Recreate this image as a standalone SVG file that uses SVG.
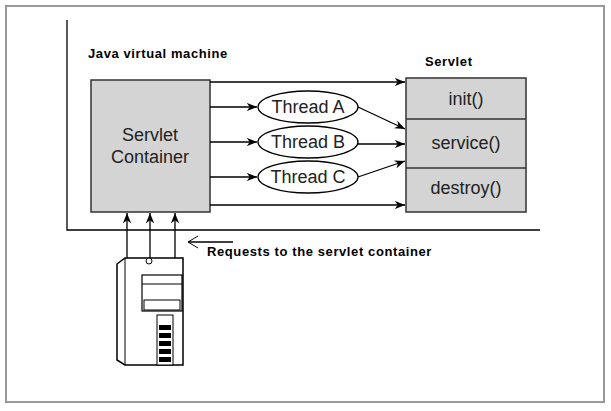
<svg xmlns="http://www.w3.org/2000/svg" width="611" height="411" viewBox="0 0 611 411">
<defs>
<marker id="ah" viewBox="0 0 10 10" refX="10" refY="5" markerWidth="8" markerHeight="8" orient="auto"><path d="M0,1 L10,5 L0,9 L3,5 z" fill="#000"/></marker>
</defs>
<style>
.b{font-family:"Liberation Sans",Arial,sans-serif;font-weight:bold;font-size:13px;letter-spacing:0.6px}
.t{font-family:"Liberation Sans",Arial,sans-serif;font-size:18px;fill:#222}
.box{fill:#d4d4d4;stroke:#333;stroke-width:1.5}
.ln{stroke:#000;stroke-width:1.3;fill:none}
</style>
<rect x="0" y="0" width="611" height="411" fill="#fff"/>
<rect x="6" y="6" width="598" height="396" fill="none" stroke="#999" stroke-width="2"/>
<path d="M67,20 V230 H540" class="ln"/>
<text class="b" x="88" y="58">Java virtual machine</text>
<text class="b" x="425" y="66">Servlet</text>
<g id="container"><rect class="box" x="91" y="80" width="119" height="132"/>
<text class="t" text-anchor="middle" x="150" y="141">Servlet</text><text class="t" text-anchor="middle" x="150" y="163">Container</text></g>
<g id="servlet"><rect class="box" x="406" y="78" width="120" height="134"/>
<line x1="406" y1="119" x2="526" y2="119" stroke="#333" stroke-width="1.5"/>
<line x1="406" y1="168" x2="526" y2="168" stroke="#333" stroke-width="1.5"/>
<text class="t" text-anchor="middle" x="466" y="105">init()</text>
<text class="t" text-anchor="middle" x="466" y="149">service()</text>
<text class="t" text-anchor="middle" x="466" y="194">destroy()</text></g>
<g id="threadA"><ellipse cx="308" cy="107" rx="50" ry="16" fill="#fff" stroke="#000" stroke-width="1.3"/><text class="t" text-anchor="middle" x="308" y="113">Thread A</text></g>
<g id="threadB"><ellipse cx="308" cy="142" rx="50" ry="16" fill="#fff" stroke="#000" stroke-width="1.3"/><text class="t" text-anchor="middle" x="308" y="148">Thread B</text></g>
<g id="threadC"><ellipse cx="308" cy="177" rx="50" ry="16" fill="#fff" stroke="#000" stroke-width="1.3"/><text class="t" text-anchor="middle" x="308" y="183">Thread C</text></g>
<g id="connectors" class="ln" marker-end="url(#ah)">
<line x1="210" y1="82" x2="405" y2="82"/>
<line x1="210" y1="205" x2="405" y2="205"/>
<line x1="210" y1="107" x2="257" y2="107"/>
<line x1="210" y1="142" x2="257" y2="142"/>
<line x1="210" y1="177" x2="257" y2="177"/>
<line x1="358" y1="107" x2="405" y2="129"/>
<line x1="358" y1="144" x2="405" y2="144"/>
<line x1="358" y1="177" x2="405" y2="161"/>
<line x1="127" y1="258" x2="127" y2="213"/>
<line x1="150" y1="258" x2="150" y2="213"/>
<line x1="175" y1="258" x2="175" y2="213"/>
<line x1="233" y1="242" x2="188" y2="242" marker-end="none"/>
</g>
<path d="M198,236 L188,242 L198,248" fill="none" stroke="#000" stroke-width="1"/>
<text class="b" x="207" y="256">Requests to the servlet container</text>
<g id="server" stroke="#000" fill="#fff">
<path d="M117,264 L125,258 H183 V365 H125 L117,360 z" stroke-width="1.5"/>
<line x1="125" y1="258" x2="125" y2="365" stroke-width="1"/>
<rect x="142" y="275" width="40" height="36" stroke-width="1.2"/>
<line x1="142" y1="284" x2="182" y2="284"/>
<rect x="144" y="300" width="36" height="10" stroke-width="1"/>
<circle cx="149" cy="261" r="3"/>
<rect x="157" y="315" width="16" height="50" stroke-width="1"/>
<g fill="#000" stroke="none"><rect x="159" y="325" width="12" height="5"/><rect x="159" y="333" width="12" height="5"/><rect x="159" y="341" width="12" height="5"/><rect x="159" y="349" width="12" height="5"/><rect x="159" y="357" width="12" height="5"/></g>
</g>
</svg>
